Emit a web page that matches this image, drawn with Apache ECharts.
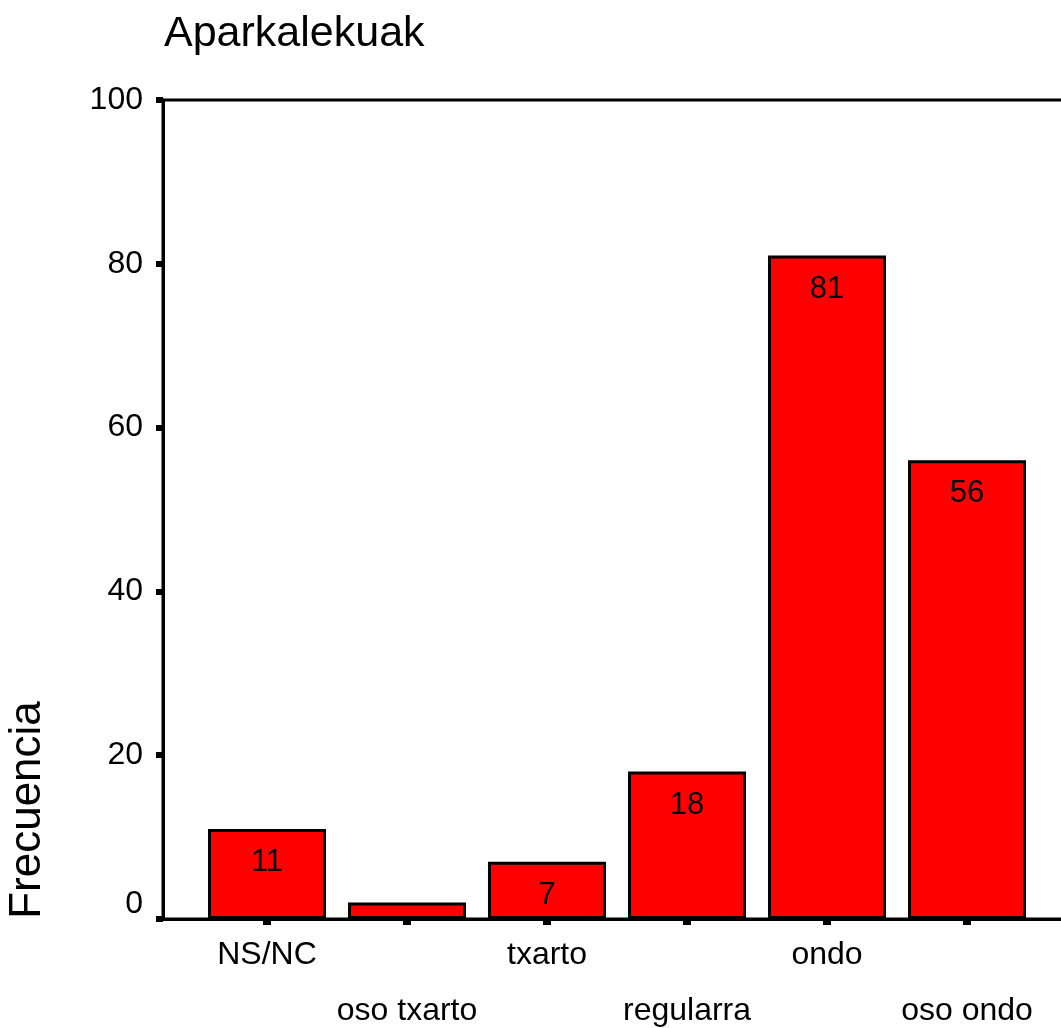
<!DOCTYPE html>
<html>
<head>
<meta charset="utf-8">
<script src="https://cdn.jsdelivr.net/npm/echarts@6/dist/echarts.min.js"></script>
<style>
  html, body { margin: 0; padding: 0; background: #ffffff; }
  #chart { width: 1061px; height: 1028px; }
</style>
</head>
<body>
<div id="chart"></div>
<script>
const titleText = 'Aparkalekuak';
const yAxisName = 'Frecuencia';
const categories = ['NS/NC', 'oso txarto', 'txarto', 'regularra', 'ondo', 'oso ondo'];
const frequencies = [11, 2, 7, 18, 81, 56];
const hiddenLabels = [false, true, false, false, false, false];
const yTicks = [0, 20, 40, 60, 80, 100];

const FONT = 'Liberation Sans, Arial, sans-serif';

const barData = frequencies.map((v, i) => ({
  value: [i, v],
  label: { show: !hiddenLabels[i] }
}));

const chart = echarts.init(document.getElementById('chart'), null, { renderer: 'canvas' });

chart.setOption({
  animation: false,
  backgroundColor: '#ffffff',
  title: {
    text: titleText,
    left: 164,
    top: 13,
    padding: 0,
    textStyle: { fontFamily: FONT, fontSize: 43, fontWeight: 'normal', color: '#000' }
  },
  graphic: [{
    type: 'text',
    x: 28,
    y: 810,
    rotation: Math.PI / 2,
    style: {
      text: yAxisName,
      font: '44px ' + FONT,
      fill: '#000',
      textAlign: 'center',
      textVerticalAlign: 'middle'
    }
  }],
  grid: {
    left: 163,
    top: 100,
    width: 944,
    height: 819,
    containLabel: false,
    outerBoundsMode: 'none',
    show: true,
    borderColor: '#000',
    borderWidth: 3,
    backgroundColor: 'transparent'
  },
  xAxis: {
    type: 'value',
    min: -0.743,
    max: 6,
    splitLine: { show: false },
    axisLine: { show: true, onZero: false, lineStyle: { color: '#000', width: 3 } },
    axisTick: {
      show: true,
      inside: false,
      length: 6,
      customValues: categories.map((c, i) => i),
      lineStyle: { color: '#000', width: 8 }
    },
    axisLabel: {
      show: true,
      margin: 8,
      customValues: categories.map((c, i) => i),
      fontFamily: FONT,
      fontSize: 32,
      color: '#000',
      lineHeight: 56,
      formatter: function (val) {
        const i = Math.round(val);
        const name = categories[i] || '';
        return (i % 2 === 1) ? '\n' + name : name;
      }
    }
  },
  yAxis: {
    type: 'value',
    min: 0,
    max: 100,
    interval: 20,
    splitLine: { show: false },
    axisLine: { show: true, onZero: false, lineStyle: { color: '#000', width: 3 } },
    axisTick: {
      show: true,
      inside: false,
      length: 7,
      lineStyle: { color: '#000', width: 6 }
    },
    axisLabel: {
      margin: 20,
      fontFamily: FONT,
      fontSize: 32,
      color: '#000',
      formatter: function (val) {
        return val === 0 ? '{z|0}' : String(val);
      },
      rich: {
        z: { fontFamily: FONT, fontSize: 32, color: '#000', padding: [0, 0, 30, 0] }
      }
    }
  },
  series: [{
    type: 'bar',
    data: barData,
    barWidth: 118,
    itemStyle: { color: '#ff0000', borderColor: '#000', borderWidth: 3 },
    label: {
      show: true,
      position: 'insideTop',
      distance: 18,
      fontFamily: FONT,
      fontSize: 31,
      color: '#000',
      formatter: function (p) { return p.value[1]; }
    }
  }]
});
</script>
</body>
</html>
